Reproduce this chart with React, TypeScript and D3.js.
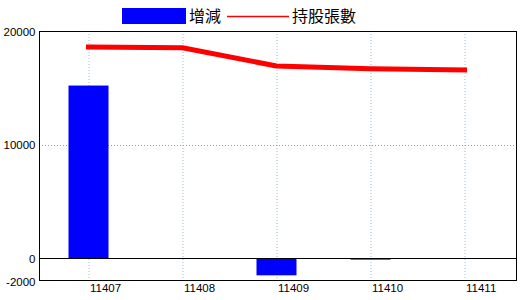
import React from "react";
import * as d3 from "d3";

const categories = ["11407", "11408", "11409", "11410", "11411"];
const changeValues = [15200, 0, -1500, -120, 0];
const holdingValues = [18600, 18520, 16920, 16680, 16580];
const yTicks = [20000, 10000, 0, -2000];
const legendLabels = ["增減", "持股張數"];

const W = 520;
const H = 300;
const left = 39;
const right = 517;
const top = 31;
const bottom = 281;

export default function App() {
  const x = d3.scalePoint<string>().domain(categories).range([88.5, 464.5]);
  const y = d3.scaleLinear().domain([-2000, 20000]).range([bottom, top]);
  const barW = 40;
  const line = d3
    .line<number>()
    .x((_, i) => x(categories[i]) as number)
    .y((d) => y(d));
  const font = "'Liberation Sans', Arial, sans-serif";
  const cjk = "'Noto Sans CJK TC', 'Noto Sans CJK SC', sans-serif";

  return (
    <svg
      width={W}
      height={H}
      style={{ position: "absolute", left: 0, top: 0, background: "#fff" }}
    >
      {/* legend */}
      <rect x={122} y={8} width={64} height={16} fill="#0000ff" />
      <text x={189} y={22} fontSize={16} fontFamily={cjk} fill="#000">
        {legendLabels[0]}
      </text>
      <line x1={227} x2={289} y1={16.5} y2={16.5} stroke="#ff0000" strokeWidth={1.5} />
      <text x={292} y={22} fontSize={16} fontFamily={cjk} fill="#000">
        {legendLabels[1]}
      </text>

      {/* grid */}
      {categories.map((c) => (
        <line
          key={"vg" + c}
          x1={(x(c) as number) + 0.5}
          x2={(x(c) as number) + 0.5}
          y1={top}
          y2={bottom}
          stroke="#9ab8cc"
          strokeDasharray="1,2"
        />
      ))}
      {yTicks
        .filter((t) => t !== 0 && t !== 20000 && t !== -2000)
        .map((t) => (
          <line
            key={"hg" + t}
            x1={left}
            x2={right}
            y1={Math.round(y(t)) + 0.5}
            y2={Math.round(y(t)) + 0.5}
            stroke="#999"
            strokeDasharray="1,2"
          />
        ))}

      {/* bars */}
      {changeValues.map((v, i) =>
        v === 0 ? null : (
          <rect
            key={"b" + i}
            x={(x(categories[i]) as number) - barW / 2}
            y={Math.min(y(v), y(0))}
            width={barW}
            height={Math.max(1, Math.abs(y(v) - y(0)))}
            fill="#0000ff"
          />
        )
      )}

      {/* zero line */}
      <line
        x1={left}
        x2={right}
        y1={Math.round(y(0)) + 0.5}
        y2={Math.round(y(0)) + 0.5}
        stroke="#000"
        strokeWidth={1}
      />

      {/* holding line */}
      <path
        d={line(holdingValues) || ""}
        fill="none"
        stroke="#ff0000"
        strokeWidth={5}
        strokeLinejoin="round"
        strokeLinecap="square"
      />

      {/* frame */}
      <rect
        x={left + 0.5}
        y={top + 0.5}
        width={right - left - 1}
        height={bottom - top - 1}
        fill="none"
        stroke="#000"
        strokeWidth={1}
      />

      {/* y labels */}
      {yTicks.map((t) => (
        <text
          key={"yl" + t}
          x={35.5}
          y={y(t) + 4.5}
          fontSize={11.5}
          fontFamily={font}
          textAnchor="end"
          fill="#000"
        >
          {t}
        </text>
      ))}

      {/* x labels */}
      {categories.map((c) => (
        <text
          key={"xl" + c}
          x={(x(c) as number) + 1.5}
          y={292}
          fontSize={11.5}
          fontFamily={font}
          textAnchor="start"
          fill="#000"
        >
          {c}
        </text>
      ))}
    </svg>
  );
}
